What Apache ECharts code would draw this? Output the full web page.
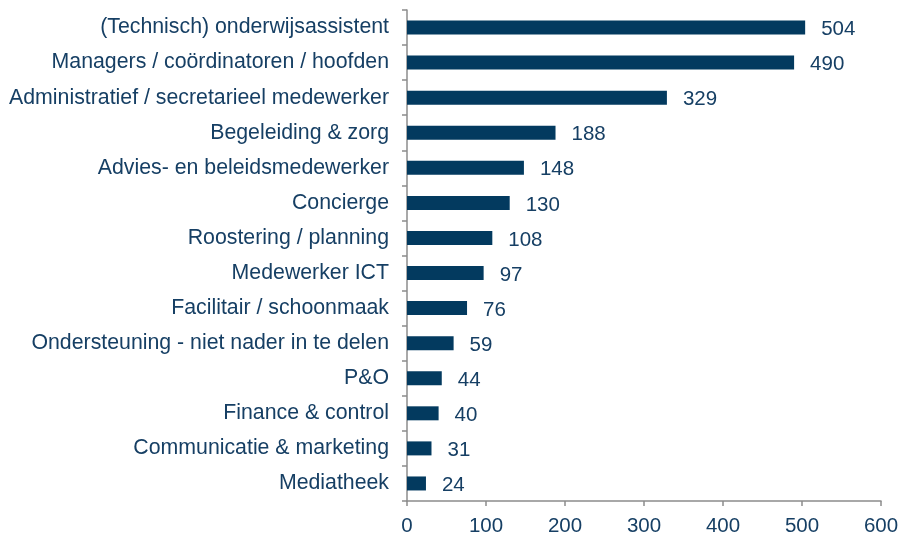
<!DOCTYPE html>
<html><head><meta charset="utf-8">
<script src="https://cdn.jsdelivr.net/npm/echarts@6/dist/echarts.min.js"></script>
<style>html,body{margin:0;padding:0;background:#fff}#c{width:902px;height:537px}</style>
</head><body><div id="c"></div>
<script>
const categories = [
  "(Technisch) onderwijsassistent",
  "Managers / coördinatoren / hoofden",
  "Administratief / secretarieel medewerker",
  "Begeleiding & zorg",
  "Advies- en beleidsmedewerker",
  "Concierge",
  "Roostering / planning",
  "Medewerker ICT",
  "Facilitair / schoonmaak",
  "Ondersteuning - niet nader in te delen",
  "P&O",
  "Finance & control",
  "Communicatie & marketing",
  "Mediatheek"
];
const values = [504, 490, 329, 188, 148, 130, 108, 97, 76, 59, 44, 40, 31, 24];
const xTicks = { min: 0, max: 600, interval: 100 };

const textColor = '#163f64';
const chart = echarts.init(document.getElementById('c'));
chart.setOption({
  animation: false,
  grid: { left: 407, right: 21, top: 10, bottom: 35, containLabel: false },
  xAxis: {
    type: 'value', min: xTicks.min, max: xTicks.max, interval: xTicks.interval,
    splitLine: { show: false },
    axisLine: { show: true, lineStyle: { color: '#8c8c8c', width: 1.5 } },
    axisTick: { show: true, length: 5, lineStyle: { color: '#8c8c8c', width: 1.5 } },
    axisLabel: { color: textColor, fontFamily: 'Liberation Sans', fontSize: 20.5, margin: 15 }
  },
  yAxis: {
    type: 'category', data: categories, inverse: true,
    axisLine: { show: true, lineStyle: { color: '#8c8c8c', width: 1.5 } },
    axisTick: { show: true, length: 5, alignWithLabel: false, lineStyle: { color: '#8c8c8c', width: 1.5 } },
    axisLabel: { color: textColor, fontFamily: 'Liberation Sans', fontSize: 21.3, margin: 18, padding: [6, 0, 0, 0] }
  },
  series: [{
    type: 'bar', data: values, barWidth: 14,
    itemStyle: { color: '#033a5f' },
    label: { show: true, position: 'right', distance: 16, offset: [0, 2], color: textColor, fontFamily: 'Liberation Sans', fontSize: 20.5 }
  }]
});
</script></body></html>
